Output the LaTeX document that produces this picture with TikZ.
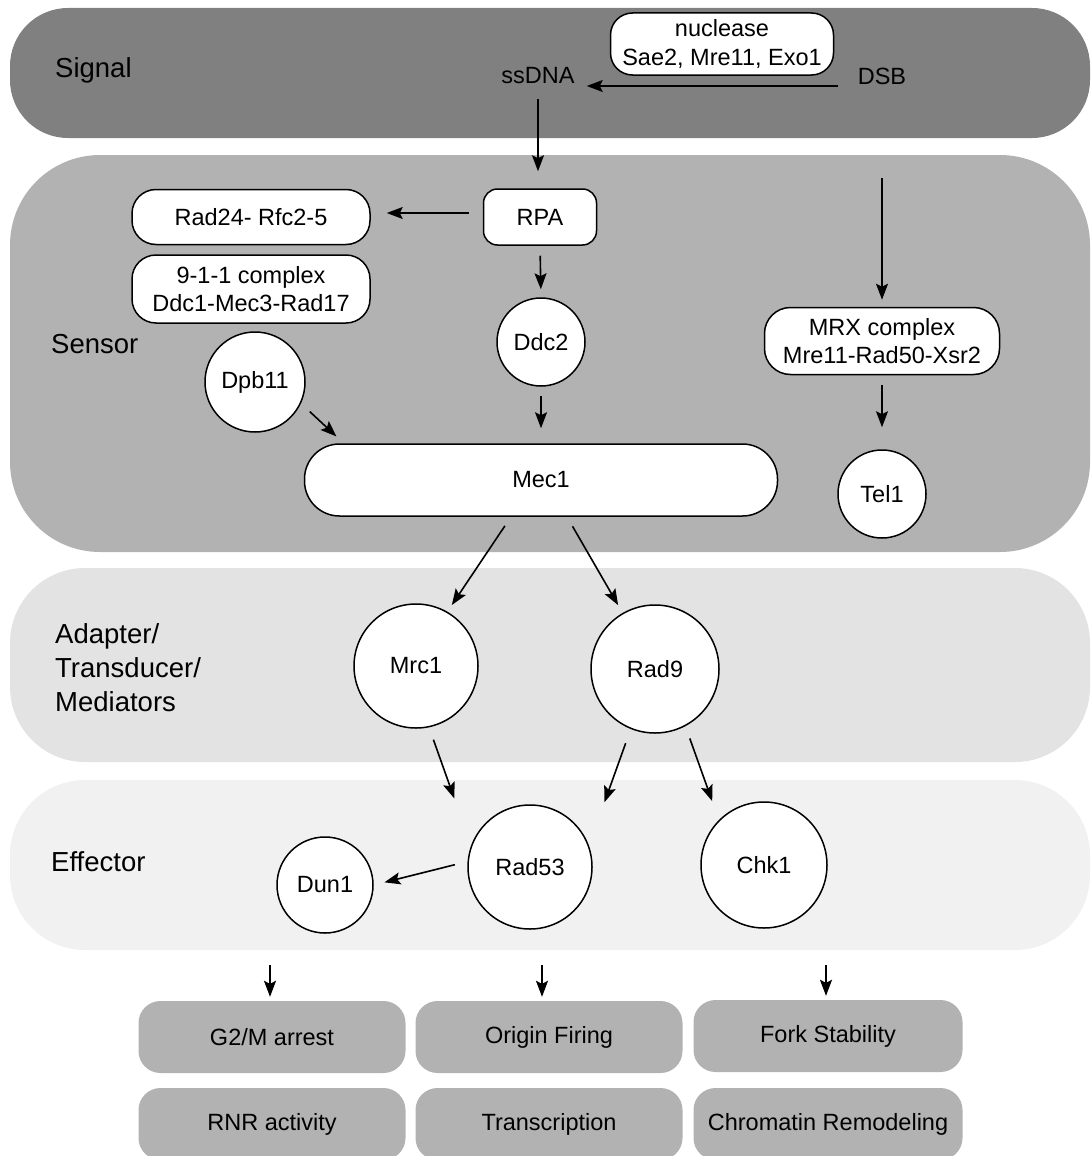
\documentclass[tikz,border=0pt]{standalone}
\usepackage{fontspec}
\setmainfont{Liberation Sans}
\usepackage{xcolor}
\usepackage{tikz}
\usetikzlibrary{arrows.meta,positioning}
\definecolor{signalgray}{gray}{0.50}
\definecolor{sensorgray}{gray}{0.70}
\definecolor{adaptgray}{gray}{0.89}
\definecolor{effectgray}{gray}{0.945}

\begin{document}
\begin{tikzpicture}[x=1pt,y=-1pt,>={Stealth[length=16pt,width=12pt,inset=3pt]},
  every node/.style={font=\fontsize{23.5}{28.5}\selectfont,inner sep=3pt},
  tier/.style={anchor=west,align=left,font=\fontsize{27.5}{34}\selectfont},
  pill/.style={draw,line width=1.5pt,fill=white,align=center,inner sep=0pt},
  disc/.style={circle,draw,line width=1.5pt,fill=white,inner sep=0pt},
  outcome/.style={fill=sensorgray,rounded corners=22pt,minimum width=267pt,minimum height=72pt,inner sep=0pt},
  link/.style={->,line width=1.6pt}]
  \useasboundingbox (0,0) rectangle (1091,1156);
  \fill[signalgray,rounded corners=58pt] (10,8) rectangle (1090,138);
  \fill[sensorgray,rounded corners=90pt] (10,155) rectangle (1090,552);
  \fill[adaptgray,rounded corners=75pt] (10,568) rectangle (1090,762);
  \fill[effectgray,rounded corners=75pt] (10,780) rectangle (1090,950);

  \node[tier] (signal) at (52,70) {Signal};
  \node[tier] (sensor) at (48,344) {Sensor};
  \node[tier] (adapter) at (52,668) {Adapter/\\Transducer/\\Mediators};
  \node[tier] (effector) at (48,862) {Effector};

  \node[pill,rounded corners=22pt,minimum width=223pt,minimum height=62pt] (nuclease) at (722,44) {nuclease\\Sae2, Mre11, Exo1};
  \node (ssdna) at (538,76) {ssDNA};
  \node (dsb) at (882,76) {DSB};

  \node[pill,rounded corners=14pt,minimum width=113pt,minimum height=56pt] (rpa) at (540,217) {RPA};
  \node[pill,rounded corners=24pt,minimum width=238pt,minimum height=55pt] (rad24) at (251,217) {Rad24- Rfc2-5};
  \node[pill,rounded corners=24pt,minimum width=238pt,minimum height=68pt] (nineoneone) at (251,289) {9-1-1 complex\\Ddc1-Mec3-Rad17};
  \node[disc,minimum size=100pt] (dpb11) at (255,382) {Dpb11};
  \node[disc,minimum size=88pt] (ddc2) at (541,342) {Ddc2};
  \node[pill,rounded corners=35pt,minimum width=473pt,minimum height=72pt] (mec1) at (541,480) {Mec1};
  \node[pill,rounded corners=26pt,minimum width=235pt,minimum height=67pt] (mrx) at (882,341) {MRX complex\\Mre11-Rad50-Xsr2};
  \node[disc,minimum size=88pt] (tel1) at (882,494) {Tel1};
  \coordinate (mrxin) at (882,178);

  \node[disc,minimum size=124pt] (mrc1) at (416,666) {Mrc1};
  \node[disc,minimum size=128pt] (rad9) at (655,669) {Rad9};
  \node[disc,minimum size=124pt] (rad53) at (530,867) {Rad53};
  \node[disc,minimum size=126pt] (chk1) at (764,865) {Chk1};
  \node[disc,minimum size=96pt] (dun1) at (325,885) {Dun1};

  \node[outcome] (g2m) at (272,1037) {G2/M arrest};
  \node[outcome] (origin) at (549,1037) {Origin Firing};
  \node[outcome,minimum width=269pt] (fork) at (828,1036) {Fork Stability};
  \node[outcome] (rnr) at (272,1124) {RNR activity};
  \node[outcome] (transcr) at (549,1124) {Transcription};
  \node[outcome,minimum width=269pt] (chromatin) at (828,1124) {Chromatin Remodeling};
  \coordinate (outa) at (270,965);
  \coordinate (outb) at (542,965);
  \coordinate (outc) at (826,965);

  \draw[link,shorten <=17pt,shorten >=9pt] ([yshift=-10pt]dsb.west) -- ([yshift=-10pt]ssdna.east);
  \draw[link,shorten <=12pt,shorten >=17pt] (ssdna.south) -- (ssdna.south |- rpa.north);
  \draw[link,shorten <=14pt,shorten >=16pt] ([yshift=4pt]rpa.west) -- ([yshift=4pt]rad24.east);
  \draw[link,shorten <=10pt,shorten >=8pt] (rpa.south) -- (ddc2.north);
  \draw[link,shorten <=9pt,shorten >=15pt] (ddc2.south) -- (ddc2.south |- mec1.north);
  \draw[link,shorten <=12pt,shorten >=10pt] (dpb11.-25) -- ([xshift=40pt]mec1.north west);
  \draw[link,shorten >=7pt] (mrxin) -- (mrx.north);
  \draw[link,shorten <=10pt,shorten >=22pt] (mrx.south) -- (tel1.north);
  \draw[link,shorten <=11pt,shorten >=8pt] ([xshift=-30pt]mec1.south) -- (mrc1.60);
  \draw[link,shorten <=11pt,shorten >=9pt] ([xshift=26pt]mec1.south) -- (rad9.120);
  \draw[link,shorten <=13pt,shorten >=50pt] (mrc1.-78) -- (rad53.160);
  \draw[link,shorten <=15pt,shorten >=46pt] (rad9.-112) -- (rad53.20);
  \draw[link,shorten <=13pt,shorten >=20pt] (rad9.-62) -- (chk1.135);
  \draw[link,shorten <=13pt,shorten >=11pt] (rad53.175) -- (dun1.east);
  \draw[link,shorten >=4pt] (outa) -- (outa |- g2m.north);
  \draw[link,shorten >=4pt] (outb) -- (outb |- origin.north);
  \draw[link,shorten >=4pt] (outc) -- (outc |- fork.north);
\end{tikzpicture}
\end{document}
